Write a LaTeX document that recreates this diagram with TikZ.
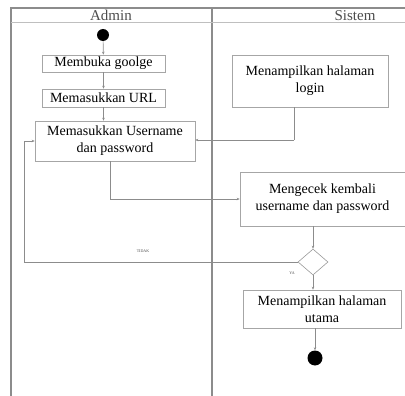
\documentclass[tikz,border=0pt]{standalone}
\usepackage{fontspec}
\setmainfont{Liberation Serif}
\usetikzlibrary{arrows.meta,shapes.geometric}
\begin{document}
\begin{tikzpicture}[x=1pt,y=-1pt,
  lane/.style={draw=black!45,line width=1.2pt},
  act/.style={draw=black!35,line width=0.6pt,fill=white,inner sep=0pt,align=center,font=\fontsize{14}{17}\selectfont},
  flow/.style={draw=black!45,line width=0.7pt,-{Stealth[length=3pt,width=2.5pt]}},
  flowp/.style={draw=black!45,line width=0.7pt},
  hdr/.style={font=\fontsize{15}{16}\selectfont,text=black!70},
  lbl/.style={font=\fontsize{4}{5}\selectfont,text=black!70}]
\useasboundingbox (0,0) rectangle (405,396);
% swimlanes
\draw[lane] (11,396) -- (11,8) -- (405,8);
\draw[lane] (212,8) -- (212,396);
\draw[draw=black!25,line width=0.6pt] (11,22) -- (405,22);
\node[hdr] (hA) at (111,15.5) {Admin};
\node[hdr] (hS) at (355,15.5) {Sistem};
% nodes
\node[circle,fill=black,minimum size=12pt,inner sep=0pt] (start) at (103,35) {};
\node[act,minimum width=123pt,minimum height=17pt] (n1) at (103.5,63.5) {Membuka goolge};
\node[act,minimum width=123pt,minimum height=18pt] (n2) at (103.5,98) {Memasukkan URL};
\node[act,minimum width=160pt,minimum height=40pt] (n3) at (115,141) {Memasukkan Username\\dan password};
\node[act,minimum width=156pt,minimum height=52pt] (n4) at (310,81) {Menampilkan halaman\\login};
\node[act,minimum width=165pt,minimum height=54pt] (n5) at (322.5,199) {Mengecek kembali\\username dan password};
\node[diamond,draw=black!40,line width=0.6pt,minimum width=30pt,minimum height=26pt,inner sep=0pt] (d) at (313,262) {};
\node[act,minimum width=158pt,minimum height=38pt] (n6) at (322,309) {Menampilkan halaman\\utama};
\node[circle,fill=black,minimum size=15pt,inner sep=0pt] (end) at (315,358) {};
\coordinate (c1) at (294,140);
\coordinate (c2) at (110,199);
\coordinate (c3) at (24,262);
\coordinate (c4) at (24,141);
% connectors
\draw[flow] (start) -- (n1);
\draw[flow] (n1) -- (n2);
\draw[flow] (n2.south) -- (n2.south |- n3.north);
\draw[flowp] (n4.south -| c1) -- (c1);
\draw[flow] (c1) -- (n3.east |- c1);
\draw[flowp] (n3.south -| c2) -- (c2);
\draw[flow] (c2) -- (n5.west |- c2);
\draw[flow] (n5.south -| d) -- (d.north);
\draw[flowp] (d.west) -- (c3);
\draw[flowp] (c3) -- (c4);
\draw[flow] (c4) -- (n3.west |- c4);
\draw[flow] (d.south) -- (n6.north -| d);
\draw[flow] (n6.south -| end) -- (end);
\node[lbl] (t1) at (143,251) {TIDAK};
\node[lbl] (t2) at (292,273) {YA};
\end{tikzpicture}
\end{document}
